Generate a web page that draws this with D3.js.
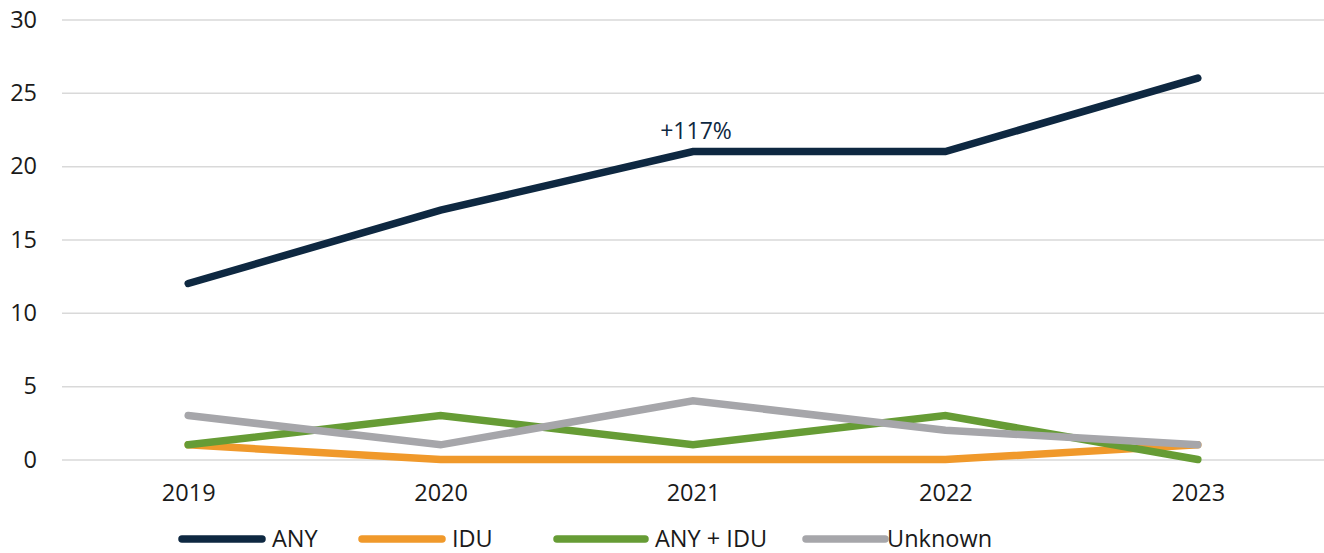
<!DOCTYPE html>
<html>
<head>
<meta charset="utf-8">
<script src="https://cdn.jsdelivr.net/npm/d3@7"></script>
<style>
  body { margin: 0; background: #fff; }
  svg text { font-family: "Open Sans", sans-serif; }
  .grid line { stroke: #d9d9d9; stroke-width: 1.5px; }
  .tick text { fill: #1a1a1a; font-size: 23.5px; }
</style>
</head>
<body>
<svg id="chart" width="1324" height="553"></svg>
<script>
const years = ['2019', '2020', '2021', '2022', '2023'];
const anyVals = [12, 17, 21, 21, 26];
const iduVals = [1, 0, 0, 0, 1];
const anyIduVals = [1, 3, 1, 3, 0];
const unknownVals = [3, 1, 4, 2, 1];
const yTicks = [0, 5, 10, 15, 20, 25, 30];
const annotation = { year: '2021', value: 21, label: '+117%' };

const series = [
  { name: 'ANY', values: anyVals, color: '#0e2841' },
  { name: 'IDU', values: iduVals, color: '#f0992b' },
  { name: 'ANY + IDU', values: anyIduVals, color: '#669c35' },
  { name: 'Unknown', values: unknownVals, color: '#a6a6aa' }
];

const svg = d3.select('#chart');
const plotLeft = 62, plotRight = 1324, plotTop = 19.5, plotBottom = 459.5;

const x = d3.scalePoint().domain(years).range([plotLeft, plotRight]).padding(0.5);
const y = d3.scaleLinear().domain([0, 30]).range([plotBottom, plotTop]);

// gridlines + y labels
const yAxis = svg.append('g')
  .attr('class', 'grid')
  .attr('transform', `translate(${plotLeft},0)`)
  .call(d3.axisLeft(y).tickValues(yTicks).tickSize(-(plotRight - plotLeft)).tickPadding(25));
yAxis.select('.domain').remove();

// x labels
const xAxis = svg.append('g')
  .attr('transform', `translate(0,${plotBottom})`)
  .call(d3.axisBottom(x).tickSize(0).tickPadding(25));
xAxis.select('.domain').remove();
svg.selectAll('.tick text').attr('font-family', null);

const line = d3.line()
  .x((d, i) => x(years[i]))
  .y(d => y(d));

svg.selectAll('path.series')
  .data(series)
  .join('path')
  .attr('class', 'series')
  .attr('fill', 'none')
  .attr('stroke', d => d.color)
  .attr('stroke-width', 7.5)
  .attr('stroke-linecap', 'round')
  .attr('stroke-linejoin', 'miter')
  .attr('d', d => line(d.values));

svg.append('text')
  .attr('x', x(annotation.year) + 3)
  .attr('y', y(annotation.value) - 13)
  .attr('text-anchor', 'middle')
  .attr('fill', '#0e2841')
  .attr('font-size', 23)
  .text(annotation.label);

// legend
const legendX = [182, 362, 557, 806];
const legendW = [80, 80, 88, 79];
const legendY = 539;
const lg = svg.append('g').selectAll('g')
  .data(series)
  .join('g')
  .attr('transform', (d, i) => `translate(${legendX[i]},${legendY})`);
lg.append('line')
  .attr('x1', 0)
  .attr('x2', (d, i) => legendW[i])
  .attr('stroke', d => d.color)
  .attr('stroke-width', 7.5)
  .attr('stroke-linecap', 'round');
lg.append('text')
  .attr('x', (d, i) => legendW[i] + (i === 3 ? 2 : 10))
  .attr('y', 7.5)
  .attr('font-size', 23.5)
  .attr('fill', '#1a1a1a')
  .text(d => d.name);
</script>
</body>
</html>
